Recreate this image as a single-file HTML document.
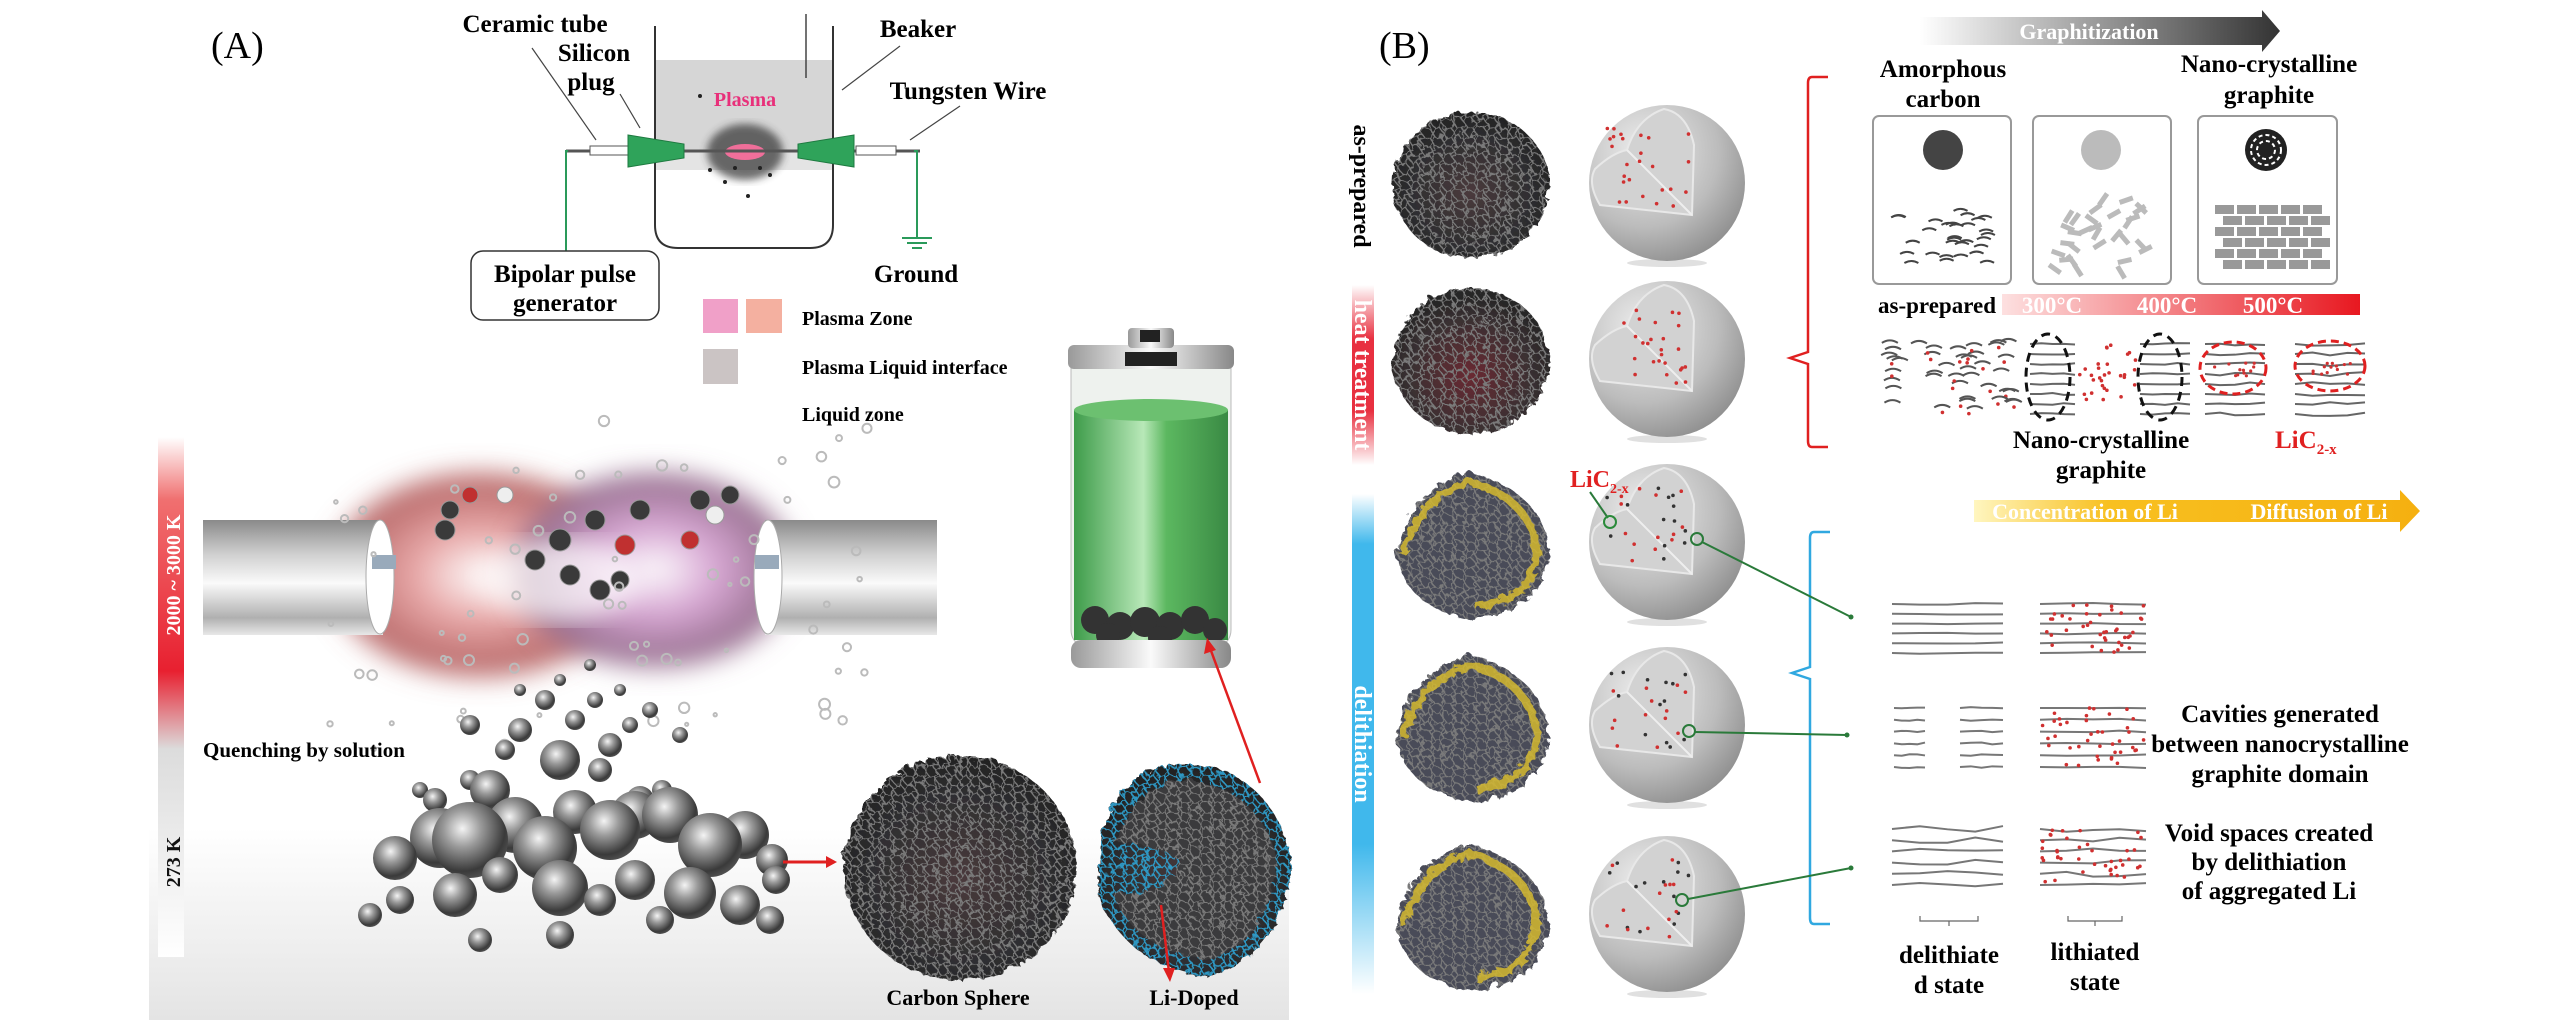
<!DOCTYPE html>
<html><head><meta charset="utf-8"><style>
html,body{margin:0;padding:0;background:#fff;}
svg{display:block;font-family:"Liberation Serif",serif;}
</style></head><body>
<svg id="s" width="2567" height="1024" viewBox="0 0 2567 1024" xmlns="http://www.w3.org/2000/svg">
<defs>
<radialGradient id="ball" cx="0.4" cy="0.35" r="0.7"><stop offset="0" stop-color="#f4f4f4"/><stop offset="0.35" stop-color="#9a9a9a"/><stop offset="0.8" stop-color="#3a3a3a"/><stop offset="1" stop-color="#555"/></radialGradient>
<radialGradient id="mesh" cx="0.5" cy="0.55" r="0.55"><stop offset="0" stop-color="#4a3a3c"/><stop offset="0.7" stop-color="#2e2e30"/><stop offset="1" stop-color="#222"/></radialGradient>
<radialGradient id="meshr" cx="0.5" cy="0.6" r="0.55"><stop offset="0" stop-color="#6a2a30"/><stop offset="0.7" stop-color="#3a3032"/><stop offset="1" stop-color="#262626"/></radialGradient>
<radialGradient id="gsph" cx="0.35" cy="0.3" r="0.8"><stop offset="0" stop-color="#eeeeee"/><stop offset="0.6" stop-color="#bcbcbc"/><stop offset="1" stop-color="#888"/></radialGradient>
<pattern id="hex" width="11" height="9" patternUnits="userSpaceOnUse"><path d="M0 4.5 L2.7 0 L8.3 0 L11 4.5 L8.3 9 L2.7 9 Z" fill="none" stroke="#7a7a7a" stroke-width="1.3"/></pattern>
<pattern id="hexb" width="11" height="9" patternUnits="userSpaceOnUse"><path d="M0 4.5 L2.7 0 L8.3 0 L11 4.5 L8.3 9 L2.7 9 Z" fill="none" stroke="#2ea3d3" stroke-width="1.5"/></pattern>
<linearGradient id="tbar" x1="0" y1="0" x2="0" y2="1"><stop offset="0" stop-color="#fff"/><stop offset="0.12" stop-color="#f07070"/><stop offset="0.45" stop-color="#e82030"/><stop offset="0.6" stop-color="#dcdcdc"/><stop offset="1" stop-color="#fff"/></linearGradient>
<linearGradient id="bg" x1="0" y1="0" x2="0" y2="1"><stop offset="0" stop-color="#fff"/><stop offset="0.6" stop-color="#fff"/><stop offset="1" stop-color="#e4e4e4"/></linearGradient>
<linearGradient id="tube" x1="0" y1="0" x2="0" y2="1"><stop offset="0" stop-color="#8a8a8a"/><stop offset="0.3" stop-color="#d0d0d0"/><stop offset="0.55" stop-color="#fafafa"/><stop offset="0.85" stop-color="#b0b0b0"/><stop offset="1" stop-color="#e8e8e8"/></linearGradient>
<radialGradient id="pink" cx="0.5" cy="0.5" r="0.5"><stop offset="0" stop-color="#fff"/><stop offset="0.4" stop-color="#e8a8a8"/><stop offset="0.85" stop-color="#b86868"/><stop offset="1" stop-color="#b86868" stop-opacity="0"/></radialGradient>
<radialGradient id="purp" cx="0.5" cy="0.5" r="0.5"><stop offset="0" stop-color="#fff"/><stop offset="0.4" stop-color="#d8a8d4"/><stop offset="0.85" stop-color="#987090"/><stop offset="1" stop-color="#987090" stop-opacity="0"/></radialGradient>
<linearGradient id="graph" x1="0" y1="0" x2="1" y2="0"><stop offset="0" stop-color="#fff"/><stop offset="1" stop-color="#333"/></linearGradient>
<linearGradient id="temp" x1="0" y1="0" x2="1" y2="0"><stop offset="0" stop-color="#fde0e0"/><stop offset="1" stop-color="#e81820"/></linearGradient>
<linearGradient id="conc" x1="0" y1="0" x2="1" y2="0"><stop offset="0" stop-color="#fff6c0"/><stop offset="0.3" stop-color="#f8c020"/><stop offset="1" stop-color="#f5b010"/></linearGradient>
<linearGradient id="heat" x1="0" y1="0" x2="0" y2="1"><stop offset="0" stop-color="#fff"/><stop offset="0.3" stop-color="#e83040"/><stop offset="0.7" stop-color="#e83040"/><stop offset="1" stop-color="#fff"/></linearGradient>
<linearGradient id="deli" x1="0" y1="0" x2="0" y2="1"><stop offset="0" stop-color="#fff"/><stop offset="0.1" stop-color="#40b8ec"/><stop offset="0.7" stop-color="#40b8ec"/><stop offset="1" stop-color="#fff"/></linearGradient>
<linearGradient id="batt" x1="0" y1="0" x2="1" y2="0"><stop offset="0" stop-color="#3e9c4a"/><stop offset="0.45" stop-color="#b8e8b8"/><stop offset="0.6" stop-color="#5cb860"/><stop offset="1" stop-color="#3a8a44"/></linearGradient>
<linearGradient id="cap" x1="0" y1="0" x2="1" y2="0"><stop offset="0" stop-color="#999"/><stop offset="0.5" stop-color="#fafafa"/><stop offset="1" stop-color="#888"/></linearGradient>
<filter id="blur"><feGaussianBlur stdDeviation="12"/></filter>
<filter id="blur2"><feGaussianBlur stdDeviation="4"/></filter>
<filter id="rough"><feTurbulence baseFrequency="0.08" numOctaves="2" seed="3"/><feDisplacementMap in="SourceGraphic" scale="8"/></filter>
</defs>

<!-- ============ PANEL A ============ -->
<rect x="149" y="540" width="1140" height="480" fill="url(#bg)"/>
<text x="211" y="58" font-size="38">(A)</text>

<path d="M655 26 L655 225 Q655 248 678 248 L810 248 Q833 248 833 225 L833 26" fill="none" stroke="#333" stroke-width="2"/>
<rect x="656" y="60" width="176" height="90" fill="#d6d6d6"/>
<rect x="656" y="150" width="176" height="20" fill="#e4e4e4"/>
<line x1="806" y1="14" x2="806" y2="78" stroke="#444" stroke-width="1.5"/>
<ellipse cx="745" cy="152" rx="38" ry="28" fill="#333" opacity="0.7" filter="url(#blur2)"/>
<ellipse cx="745" cy="152" rx="20" ry="8" fill="#ff70a0" opacity="0.9"/>
<text x="745" y="106" font-size="20" font-weight="bold" fill="#e8307a" text-anchor="middle">Plasma</text>
<g fill="#222"><circle cx="700" cy="96" r="2"/><circle cx="710" cy="170" r="2"/><circle cx="725" cy="182" r="2"/><circle cx="748" cy="196" r="2"/><circle cx="770" cy="175" r="2"/><circle cx="760" cy="168" r="2"/><circle cx="735" cy="168" r="2"/></g>
<line x1="566" y1="151" x2="920" y2="151" stroke="#555" stroke-width="3"/>
<rect x="590" y="146" width="40" height="9" fill="#fff" stroke="#555"/>
<rect x="856" y="146" width="40" height="9" fill="#fff" stroke="#555"/>
<polygon points="628,135 684,144 684,158 628,167" fill="#2fa35a" stroke="#1e7a40"/>
<polygon points="854,135 798,144 798,158 854,167" fill="#2fa35a" stroke="#1e7a40"/>
<path d="M568 151 L566 151 L566 251" fill="none" stroke="#2a9a5a" stroke-width="2"/>
<path d="M914 151 L917 151 L917 238" fill="none" stroke="#2a9a5a" stroke-width="2"/>
<g stroke="#2a9a5a" stroke-width="2"><line x1="902" y1="238" x2="932" y2="238"/><line x1="907" y1="243" x2="927" y2="243"/><line x1="912" y1="248" x2="922" y2="248"/></g>
<rect x="471" y="251" width="188" height="69" rx="12" fill="#fff" stroke="#333" stroke-width="1.5"/>
<g font-size="25" font-weight="bold" text-anchor="middle">
<text x="565" y="282">Bipolar pulse</text><text x="565" y="311">generator</text>
<text x="916" y="282">Ground</text>
<text x="535" y="32">Ceramic tube</text><text x="594" y="61">Silicon</text><text x="591" y="90">plug</text>
<text x="918" y="37">Beaker</text><text x="968" y="99">Tungsten Wire</text>
</g>
<g stroke="#444" stroke-width="1.2" fill="none"><line x1="532" y1="48" x2="596" y2="140"/><line x1="620" y1="94" x2="640" y2="128"/><line x1="900" y1="46" x2="842" y2="90"/><line x1="960" y1="106" x2="910" y2="140"/></g>
<rect x="703" y="299" width="35" height="34" fill="#f0a0c8"/><rect x="746" y="299" width="36" height="34" fill="#f4b0a0"/>
<rect x="703" y="349" width="35" height="35" fill="#cbc4c4"/>
<g font-size="20" font-weight="bold"><text x="802" y="325">Plasma Zone</text><text x="802" y="374">Plasma Liquid interface</text><text x="802" y="421">Liquid zone</text></g>

<rect x="158" y="437" width="26" height="520" fill="url(#tbar)"/>
<text transform="translate(180,575) rotate(-90)" font-size="20" font-weight="bold" fill="#fff" text-anchor="middle">2000 ~ 3000 K</text>
<text transform="translate(180,862) rotate(-90)" font-size="20" font-weight="bold" fill="#111" text-anchor="middle">273 K</text>

<ellipse cx="480" cy="575" rx="160" ry="110" fill="url(#pink)" filter="url(#blur)"/>
<ellipse cx="655" cy="570" rx="150" ry="105" fill="url(#purp)" filter="url(#blur)"/>
<ellipse cx="560" cy="580" rx="80" ry="40" fill="#fff" opacity="0.7" filter="url(#blur)"/>
<rect x="203" y="520" width="180" height="115" fill="url(#tube)"/>
<ellipse cx="380" cy="577" rx="14" ry="57" fill="#fff" stroke="#aaa"/>
<rect x="372" y="555" width="24" height="14" fill="#9ab"/>
<rect x="765" y="520" width="172" height="115" fill="url(#tube)"/>
<ellipse cx="768" cy="577" rx="14" ry="57" fill="#fff" stroke="#aaa"/>
<rect x="755" y="555" width="24" height="14" fill="#9ab"/>
<g id="mol" fill="#444" stroke="#999" stroke-width="1"></g>
<g id="bubbles" fill="none" stroke="#bbb" stroke-width="2"></g>
<text x="203" y="757" font-size="21" font-weight="bold">Quenching by solution</text>
<g id="balls"></g>
<line x1="783" y1="862" x2="828" y2="862" stroke="#e02020" stroke-width="3"/><polygon points="837,862 826,856 826,868" fill="#e02020"/>

<g filter="url(#rough)">
<ellipse cx="958" cy="866" rx="116" ry="112" fill="url(#mesh)"/>
<ellipse cx="958" cy="866" rx="116" ry="112" fill="url(#hex)"/>
</g>
<text x="958" y="1005" font-size="22" font-weight="bold" text-anchor="middle">Carbon Sphere</text>
<g filter="url(#rough)">
<path d="M1100 830 Q1120 760 1190 762 Q1270 770 1290 860 Q1280 960 1200 975 Q1120 960 1095 890 Z" fill="url(#mesh)"/>
<path d="M1100 830 Q1120 760 1190 762 Q1270 770 1290 860 Q1280 960 1200 975 Q1120 960 1095 890 Z" fill="url(#hexb)" opacity="0.9"/>
<path d="M1112 840 Q1135 780 1190 778 Q1260 790 1275 860 Q1265 945 1200 958 Q1130 945 1110 890 Q1160 900 1180 860 Q1150 840 1112 840 Z" fill="#3a3a3c"/>
<path d="M1112 840 Q1135 780 1190 778 Q1260 790 1275 860 Q1265 945 1200 958 Q1130 945 1110 890 Q1160 900 1180 860 Q1150 840 1112 840 Z" fill="url(#hex)"/>
</g>
<text x="1194" y="1005" font-size="22" font-weight="bold" text-anchor="middle">Li-Doped</text>
<line x1="1161" y1="905" x2="1169" y2="972" stroke="#e02020" stroke-width="2.5"/><polygon points="1170,982 1163,968 1175,968" fill="#e02020"/>
<rect x="1071" y="348" width="160" height="300" rx="18" fill="#eef2ee" stroke="#bbb"/>
<rect x="1074" y="410" width="154" height="230" fill="url(#batt)"/>
<ellipse cx="1151" cy="410" rx="77" ry="11" fill="#6cc070"/>
<g fill="#333"><circle cx="1095" cy="620" r="14"/><circle cx="1120" cy="626" r="14"/><circle cx="1145" cy="622" r="15"/><circle cx="1170" cy="626" r="14"/><circle cx="1195" cy="620" r="14"/><circle cx="1215" cy="630" r="12"/><circle cx="1108" cy="635" r="12"/><circle cx="1160" cy="638" r="12"/></g>
<rect x="1068" y="345" width="166" height="24" rx="6" fill="url(#cap)"/>
<rect x="1125" y="352" width="52" height="14" fill="#222"/>
<rect x="1128" y="328" width="46" height="20" rx="4" fill="url(#cap)"/>
<rect x="1140" y="330" width="20" height="12" fill="#222"/>
<rect x="1071" y="640" width="160" height="28" rx="10" fill="url(#cap)"/>
<line x1="1260" y1="783" x2="1210" y2="648" stroke="#e02020" stroke-width="2.5"/><polygon points="1207,638 1204,654 1216,650" fill="#e02020"/>

<!-- ============ PANEL B ============ -->
<text x="1379" y="58" font-size="38">(B)</text>
<polygon points="1920,17 2262,17 2262,10 2280,31 2262,52 2262,45 1920,45" fill="url(#graph)"/>
<text x="2089" y="39" font-size="22" font-weight="bold" fill="#fff" text-anchor="middle">Graphitization</text>
<g font-size="25" font-weight="bold" text-anchor="middle">
<text x="1943" y="77">Amorphous</text><text x="1943" y="107">carbon</text>
<text x="2269" y="72">Nano-crystalline</text><text x="2269" y="103">graphite</text>
</g>
<g fill="#fff" stroke="#999" stroke-width="2"><rect x="1873" y="116" width="138" height="168" rx="6"/><rect x="2033" y="116" width="138" height="168" rx="6"/><rect x="2198" y="116" width="139" height="168" rx="6"/></g>
<circle cx="1943" cy="150" r="20" fill="#444"/><circle cx="2101" cy="150" r="20" fill="#bbb"/><circle cx="2266" cy="150" r="21" fill="#222"/>
<g fill="none" stroke="#fff" stroke-dasharray="4 3" stroke-width="2"><circle cx="2266" cy="150" r="15"/><circle cx="2266" cy="150" r="9"/></g>
<g id="boxfill"></g>
<path d="M1828 77 L1812 77 Q1808 77 1808 83 L1808 352 L1790 358 L1808 364 L1808 441 Q1808 447 1812 447 L1828 447" fill="none" stroke="#e02020" stroke-width="2.5"/>
<rect x="2002" y="294" width="358" height="21" fill="url(#temp)"/>
<g font-size="23" font-weight="bold"><text x="1878" y="313">as-prepared</text>
<g fill="#fff" text-anchor="middle"><text x="2052" y="313">300°C</text><text x="2167" y="313">400°C</text><text x="2273" y="313">500°C</text></g></g>
<g id="sk"></g>
<g fill="none" stroke="#111" stroke-width="3" stroke-dasharray="9 6"><ellipse cx="2048" cy="377" rx="22" ry="43"/><ellipse cx="2160" cy="377" rx="22" ry="43"/></g>
<g fill="none" stroke="#e02020" stroke-width="3" stroke-dasharray="8 5"><ellipse cx="2233" cy="368" rx="33" ry="26"/><ellipse cx="2330" cy="366" rx="35" ry="25"/></g>
<g font-size="25" font-weight="bold" text-anchor="middle"><text x="2101" y="448">Nano-crystalline</text><text x="2101" y="478">graphite</text></g>
<text x="2275" y="448" font-size="25" font-weight="bold" fill="#e02020">LiC<tspan font-size="15" dy="6">2-x</tspan></text>
<polygon points="1974,500 2400,500 2400,490 2420,511 2400,532 2400,522 1974,522" fill="url(#conc)"/>
<g font-size="22" font-weight="bold" fill="#fff" text-anchor="middle"><text x="2085" y="519">Concentration of Li</text><text x="2319" y="519">Diffusion of Li</text></g>

<text transform="translate(1354,186) rotate(90)" font-size="24" font-weight="bold" text-anchor="middle">as-prepared</text>
<rect x="1352" y="285" width="22" height="180" fill="url(#heat)"/>
<text transform="translate(1355,375) rotate(90)" font-size="24" font-weight="bold" fill="#fff" text-anchor="middle">heat treatment</text>
<rect x="1352" y="494" width="22" height="500" fill="url(#deli)"/>
<text transform="translate(1355,744) rotate(90)" font-size="24" font-weight="bold" fill="#fff" text-anchor="middle">delithiation</text>

<g id="spheres"></g>
<text x="1570" y="487" font-size="24" font-weight="bold" fill="#e02020">LiC<tspan font-size="14" dy="6">2-x</tspan></text>
<line x1="1590" y1="492" x2="1608" y2="518" stroke="#2a7a3a" stroke-width="2"/>
<circle cx="1610" cy="522" r="6" fill="none" stroke="#2a8a3a" stroke-width="2"/>
<path d="M1830 532 L1814 532 Q1810 532 1810 538 L1810 667 L1792 673 L1810 679 L1810 918 Q1810 924 1814 924 L1830 924" fill="none" stroke="#30a8e0" stroke-width="2.5"/>
<g stroke="#2a7a3a" stroke-width="2" fill="none"><circle cx="1697" cy="539" r="6"/><circle cx="1689" cy="731" r="6"/><circle cx="1682" cy="900" r="6"/>
<line x1="1702" y1="542" x2="1851" y2="617"/><line x1="1695" y1="732" x2="1847" y2="735"/><line x1="1688" y1="899" x2="1851" y2="868"/></g>
<g fill="#2a7a3a"><circle cx="1851" cy="617" r="2.5"/><circle cx="1847" cy="735" r="2.5"/><circle cx="1851" cy="868" r="2.5"/></g>
<g id="lines"></g>
<g font-size="25" font-weight="bold" text-anchor="middle">
<text x="2280" y="722">Cavities generated</text><text x="2280" y="752">between nanocrystalline</text><text x="2280" y="782">graphite domain</text>
<text x="2269" y="841">Void spaces created</text><text x="2269" y="870">by delithiation</text><text x="2269" y="899">of aggregated Li</text>
<text x="1949" y="963">delithiate</text><text x="1949" y="993">d state</text><text x="2095" y="960">lithiated</text><text x="2095" y="990">state</text>
</g>
<g stroke="#666" stroke-width="1.2" fill="none"><path d="M1920 916 L1920 921 L1978 921 L1978 916 M1949 921 L1949 926"/><path d="M2068 916 L2068 921 L2122 921 L2122 916 M2095 921 L2095 926"/></g>
</svg>
<script>
var NS="http://www.w3.org/2000/svg";
var seed=7;function r(){seed=(seed*16807)%2147483647;return seed/2147483647;}
function el(p,t,a){var e=document.createElementNS(NS,t);for(var k in a)e.setAttribute(k,a[k]);(typeof p=="string"?document.getElementById(p):p).appendChild(e);return e;}
var B=[[395,858,22],[440,838,30],[470,840,38],[515,825,28],[545,848,32],[575,812,22],[610,830,30],[635,815,24],[670,815,28],[710,845,32],[745,835,24],[772,860,16],[400,900,14],[455,895,22],[500,875,18],[560,888,28],[600,900,16],[635,880,20],[690,893,26],[740,905,20],[776,880,14],[770,920,14],[370,915,12],[560,935,14],[660,920,14],[480,940,12],[490,790,20],[435,800,12],[470,780,10],[560,760,20],[600,770,12],[640,800,14],[520,730,12],[575,720,10],[545,700,10],[610,745,12],[630,725,8],[470,725,10],[420,790,8],[685,810,10],[662,790,10],[650,710,8],[680,735,8],[595,700,8],[520,690,6],[505,750,10],[560,680,6],[590,665,6],[620,690,6]];
B.sort(function(a,b){return a[1]-b[1];});
B.forEach(function(b){el("balls","circle",{cx:b[0],cy:b[1],r:b[2],fill:"url(#ball)"});});
for(var i=0;i<70;i++){var x=330+r()*560,y=420+r()*330;el("bubbles","circle",{cx:x,cy:y,r:1.5+r()*4});}
var M=[[450,510,9],[470,495,8],[445,530,10],[505,495,8],[535,560,10],[560,540,11],[570,575,10],[595,520,10],[625,545,10],[640,510,10],[600,590,10],[620,580,9],[700,500,10],[715,515,9],[730,495,9],[690,540,9]];
M.forEach(function(m,i){el("mol","circle",{cx:m[0],cy:m[1],r:m[2],fill:i%7==1?"#c03030":(i%5==3?"#eee":"#3a3a3a")});});
var rows=[183,359,542,725,914];
rows.forEach(function(y,i){
 var x=1469;
 var g=el("spheres","g",{filter:"url(#rough)"});
 if(i<2){el(g,"ellipse",{cx:x,cy:y,rx:78,ry:73,fill:i==1?"url(#meshr)":"url(#mesh)"});el(g,"ellipse",{cx:x,cy:y,rx:78,ry:73,fill:"url(#hex)"});}
 else{var d="M"+(x-75)+" "+(y+10)+" Q"+(x-60)+" "+(y-60)+" "+(x)+" "+(y-72)+" Q"+(x+75)+" "+(y-50)+" "+(x+78)+" "+(y+10)+" Q"+(x+70)+" "+(y+70)+" "+(x)+" "+(y+75)+" Q"+(x-65)+" "+(y+65)+" "+(x-75)+" "+(y+10)+"Z";
  el(g,"path",{d:d,fill:"#4a4c58"});el(g,"path",{d:d,fill:"url(#hex)"});
  el(g,"path",{d:"M"+(x-68)+" "+(y+10)+" Q"+(x-50)+" "+(y-50)+" "+(x)+" "+(y-62)+" Q"+(x+60)+" "+(y-45)+" "+(x+66)+" "+(y+8)+" Q"+(x+60)+" "+(y+58)+" "+(x+5)+" "+(y+62),fill:"none",stroke:"#d4b830","stroke-width":8,opacity:0.85});}
 var cx=1667;
 el("spheres","ellipse",{cx:cx,cy:y+80,rx:40,ry:4,fill:"#ccc",opacity:0.6});
 el("spheres","circle",{cx:cx,cy:y,r:78,fill:"url(#gsph)"});
 var f="M"+(cx-3)+" "+(y-74)+" Q"+(cx+20)+" "+(y-70)+" "+(cx+27)+" "+(y-38)+" L"+(cx+25)+" "+(y+32)+" L"+(cx-67)+" "+(y+22)+" Q"+(cx-80)+" "+(y)+" "+(cx-72)+" "+(y-14)+" Q"+(cx-55)+" "+(y-30)+" "+(cx-40)+" "+(y-33)+" Q"+(cx-30)+" "+(y-65)+" "+(cx-3)+" "+(y-74)+"Z";
 el("spheres","path",{d:f,fill:"#d2d2d2",stroke:"#e8e8e8","stroke-width":2});
 el("spheres","line",{x1:cx-40,y1:y-33,x2:cx+25,y2:y+32,stroke:"#eee","stroke-width":2});
 for(var k=0;k<26;k++){var px=cx-60+r()*82,py=y-55+r()*80;el("spheres","circle",{cx:px,cy:py,r:1.8,fill:(i>=2&&k%2)?"#333":"#d03030"});}
});
function squig(g,x0,x1,y,amp,col,w){var d="M"+x0+" "+y;var n=4;for(var k=1;k<=n;k++){d+=" L"+(x0+(x1-x0)*k/n)+" "+(y+(r()-0.5)*amp);}el(g,"path",{d:d,fill:"none",stroke:col,"stroke-width":w});}
[[604,653],[708,767],[829,885]].forEach(function(rw,j){
 for(var k=0;k<6;k++){var y=rw[0]+k*(rw[1]-rw[0])/5;
  if(j==1){squig("lines",1894,1925,y,2,"#777",2);squig("lines",1960,2003,y,2,"#777",2);}else squig("lines",1892,2003,y,j==2?6:2,"#777",2);
  squig("lines",2040,2146,y,j==2?6:2,"#777",2);}
 for(var k=0;k<40;k++)el("lines","circle",{cx:2042+r()*102,cy:rw[0]+r()*(rw[1]-rw[0]),r:1.8,fill:"#d03030"});
});
for(var k=0;k<40;k++){var x=1880+r()*130,y=340+r()*70;el("sk","path",{d:"M"+x+" "+y+" q8 -5 16 0",fill:"none",stroke:"#555","stroke-width":2});if(k%2)el("sk","circle",{cx:x+r()*10,cy:y+5,r:1.8,fill:"#d03030"});}
for(var k=0;k<8;k++){var y=344+k*10;squig("sk",2030,2075,y,2,"#666",2);squig("sk",2140,2190,y,2,"#666",2);squig("sk",2205,2265,y,3,"#666",2);squig("sk",2295,2365,y,4,"#666",2);}
for(var k=0;k<30;k++)el("sk","circle",{cx:2078+r()*58,cy:345+r()*60,r:1.8,fill:"#d03030"});
for(var k=0;k<25;k++)el("sk","circle",{cx:(k%2?2210:2310)+r()*45,cy:360+r()*16,r:1.6,fill:"#d03030"});
for(var k=0;k<30;k++){var x=1890+r()*100,y=210+r()*55;el("boxfill","path",{d:"M"+x+" "+y+" q7 -4 14 0",fill:"none",stroke:"#444","stroke-width":2});}
for(var k=0;k<30;k++){var x=2050+r()*95,y=200+r()*65;el("boxfill","rect",{x:x,y:y,width:14,height:5,fill:"#bbb",transform:"rotate("+(r()*120-60)+" "+x+" "+y+")"});}
for(var rr=0;rr<6;rr++)for(var c=0;c<5;c++)el("boxfill","rect",{x:2215+c*22+(rr%2)*8,y:205+rr*11,width:19,height:9,fill:"#999"});
</script>
</body></html>
